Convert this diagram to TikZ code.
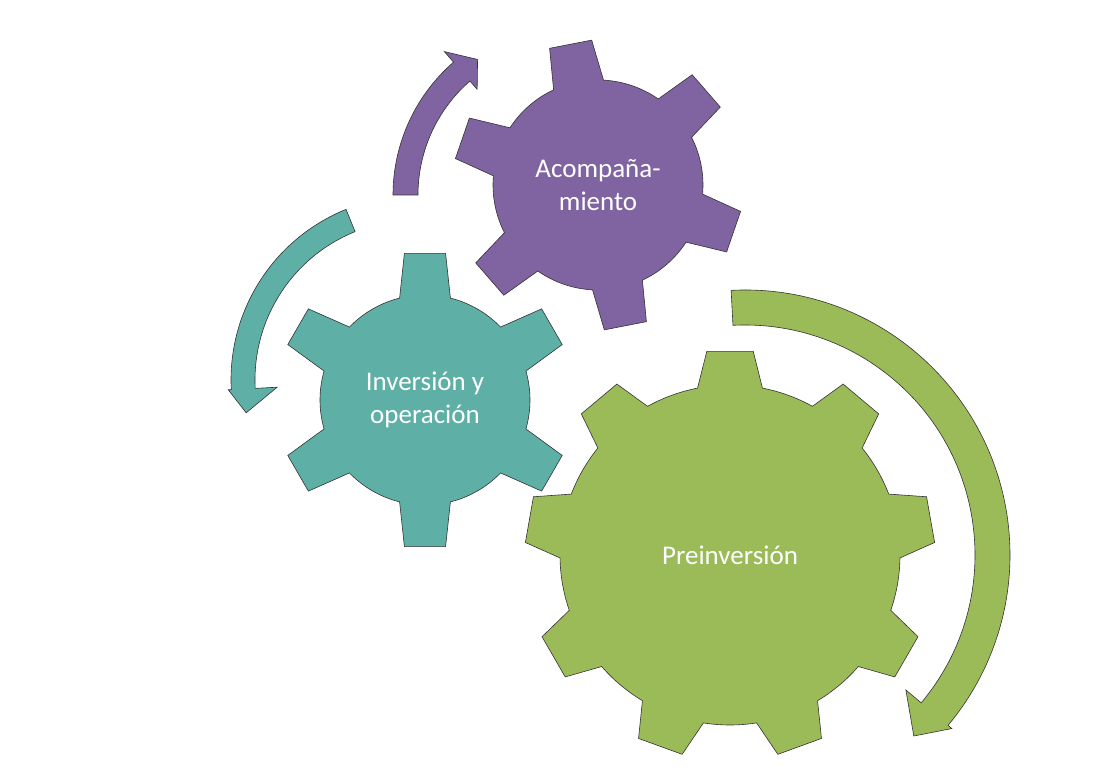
\documentclass[tikz,border=0pt]{standalone}
\usepackage{fontspec}
\setmainfont{Carlito}
\definecolor{gteal}{HTML}{5EAFA6}
\definecolor{gpurple}{HTML}{8064A2}
\definecolor{ggreen}{HTML}{9BBB59}
\tikzset{shapeline/.style={draw=black!80,line width=0.6pt,line join=miter},
 gtext/.style={text=white,font=\fontsize{27}{33}\selectfont,align=center}}
% gear: cx cy rin rout n start basehalf tiphalf color
\newcommand{\mygear}[9]{%
 \begin{scope}[shift={(#1,#2)}]
 \pgfmathsetmacro\gst{360/#5}
 \filldraw[shapeline,fill=#9] ({#6-#7}:#3)
 \foreach \i in {1,...,#5}{
   -- ({#6+(\i-1)*\gst-#8}:#4) -- ({#6+(\i-1)*\gst+#8}:#4) -- ({#6+(\i-1)*\gst+#7}:#3)
   arc[start angle={#6+(\i-1)*\gst+#7}, end angle={#6+\i*\gst-#7}, radius=#3]
 } -- cycle;
 \end{scope}}
% arrow: cx cy rin rout a0 abase atip wingin wingout color
\newcommand{\myarrow}[9]{%
 \begin{scope}[shift={(#1,#2)}]
 \filldraw[shapeline,fill=#9] (#5:#4) arc[start angle=#5,end angle=#6,radius=#4]
   -- (#6:#8+#4-#3+25) -- (#7:{(#3+#4)/2}) -- (#6:#8) -- (#6:#3)
   arc[start angle=#6,end angle=#5,radius=#3] -- cycle;
 \end{scope}}
\begin{document}
\begin{tikzpicture}[x=1pt,y=1pt]
\useasboundingbox (0,0) rectangle (1114,771);
% arrows
\myarrow{745}{216}{230}{265}{93}{-40}{-47}{210}{ggreen}
\myarrow{415}{391}{160}{184}{112}{183}{191}{138}{gteal}
\myarrow{569}{576}{151}{176}{180}{131}{124}{140}{gpurple}
% gears
\mygear{730}{216}{170}{205}{9}{90}{11}{6.5}{ggreen}
\mygear{425}{371}{105}{148}{6}{90}{14}{8}{gteal}
\mygear{598}{586}{105}{145}{6}{101}{14}{8.5}{gpurple}
\node[gtext] (pre) at (730,216) {Preinversión};
\node[gtext] (inv) at (425,371) {Inversión y\\operación};
\node[gtext] (aco) at (598,586) {Acompaña-\\miento};
\end{tikzpicture}
\end{document}
